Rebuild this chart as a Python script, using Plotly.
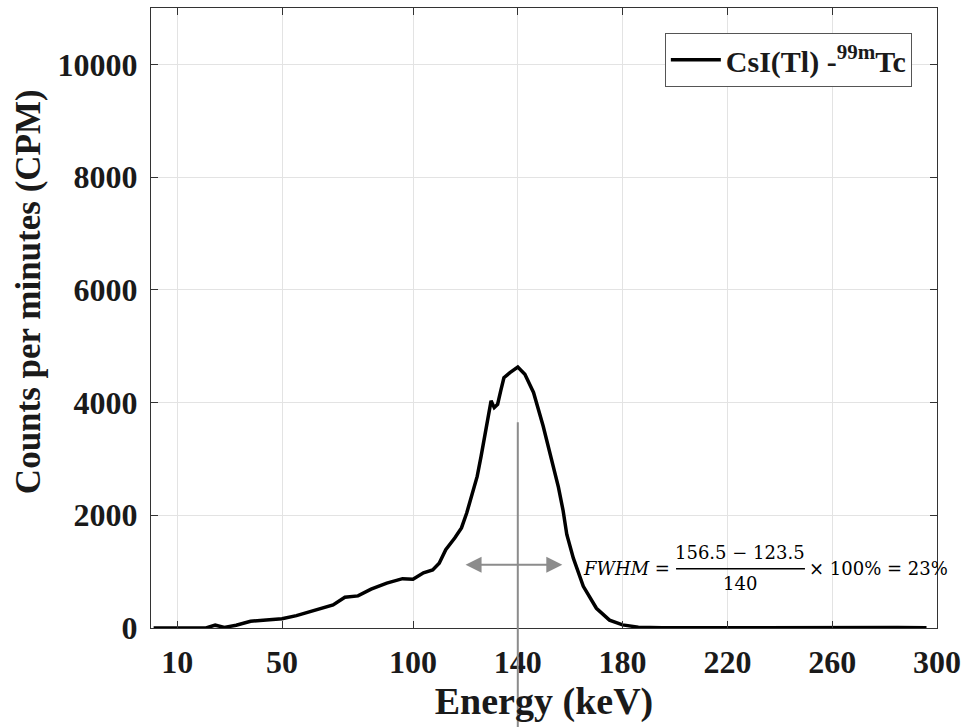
import plotly.graph_objects as go

# ---- data ----
energy_kev = [1, 10, 21, 24.5, 28, 32.5, 38, 44, 50, 55.5, 63, 69.5, 74, 79, 84, 90, 96, 100,
              104, 107.5, 110, 112.5, 116, 118.5, 120.5, 122.5, 124.5, 126, 128, 129.8, 131,
              132.3, 133.5, 134.7, 137, 140, 142.7, 146, 149.7, 152.9, 155.5, 157.3, 158.7,
              161.2, 165, 170, 175, 180, 186, 195, 210, 230, 250, 270, 285, 296]
counts_cpm = [0, 0, 0, 50, 10, 50, 120, 140, 165, 220, 320, 410, 545, 570, 690, 795, 875, 865,
              980, 1030, 1150, 1390, 1600, 1775, 2040, 2340, 2690, 3050, 3580, 4030, 3910,
              3970, 4210, 4440, 4530, 4630, 4500, 4180, 3580, 2990, 2500, 2080, 1660,
              1240, 740, 350, 140, 55, 15, 5, 8, 10, 5, 12, 8, 5]

x_ticks = [10, 50, 100, 140, 180, 220, 260, 300]
y_ticks = [0, 2000, 4000, 6000, 8000, 10000]
x_range = [0, 300]
y_range = [0, 11000]

series_name = "<b>CsI(Tl) -<sup>99m</sup>Tc</b>"
x_title = "<b>Energy (keV)</b>"
y_title = "<b>Counts per minutes (CPM)</b>"

# FWHM annotation values
fwhm_low, fwhm_high, peak_energy = 123.5, 156.5, 140
fwhm_arrow_left, fwhm_arrow_right, fwhm_arrow_y = 119.5, 157, 1120
marker_line_top = 3650

SERIF = "Liberation Serif"
MATH = "DejaVu Serif"

fig = go.Figure()
fig.add_trace(go.Scatter(x=energy_kev, y=counts_cpm, mode="lines", name=series_name,
                         line=dict(color="black", width=3.5), showlegend=True))

axis_common = dict(showline=True, linecolor="#333333", linewidth=1, mirror="ticks",
                   ticks="inside", ticklen=7, tickcolor="#333333", showgrid=True,
                   gridcolor="#e3e3e3", gridwidth=1, zeroline=False, automargin=False,
                   tickfont=dict(family=SERIF, size=32, color="#1a1a1a", weight="bold"))

fig.update_layout(
    width=965, height=727, autosize=False,
    margin=dict(l=151, r=28, t=8, b=99),
    paper_bgcolor="white", plot_bgcolor="white",
    xaxis=dict(range=x_range, tickvals=x_ticks, ticktext=[str(v) for v in x_ticks],
               ticklabelstandoff=6,
               title=dict(text=x_title, standoff=4,
                          font=dict(family=SERIF, size=38, color="#1a1a1a")),
               **axis_common),
    yaxis=dict(range=y_range, tickvals=y_ticks, ticktext=[str(v) for v in y_ticks],
               ticklabelstandoff=6, **axis_common),
    legend=dict(x=0.968, y=0.96, xanchor="right", yanchor="top",
                bgcolor="white", bordercolor="#555555", borderwidth=1,
                font=dict(family=SERIF, size=30, color="#1a1a1a"),
                itemwidth=50),
)

# y-axis title, placed slightly above the axis centre as in the reference
fig.add_annotation(x=-0.155, y=0.542, xref="paper", yref="paper", xanchor="center",
                   yanchor="middle", text=y_title, textangle=-90, showarrow=False,
                   font=dict(family=SERIF, size=35, color="#1a1a1a"))

# vertical gray marker at the peak energy, running below the axis
fig.add_shape(type="line", xref="x domain", yref="y domain",
              x0=(peak_energy - x_range[0]) / (x_range[1] - x_range[0]),
              x1=(peak_energy - x_range[0]) / (x_range[1] - x_range[0]),
              y0=-0.18, y1=marker_line_top / y_range[1],
              line=dict(color="#8c8c8c", width=2), layer="above")

# double-headed arrow
fig.add_annotation(x=fwhm_arrow_right, y=fwhm_arrow_y, ax=fwhm_arrow_left, ay=fwhm_arrow_y,
                   xref="x", yref="y", axref="x", ayref="y", text="", showarrow=True,
                   arrowside="end+start", arrowhead=2, arrowwidth=2, arrowsize=1.6,
                   arrowcolor="#8c8c8c", standoff=0, startstandoff=0)

# FWHM formula
eq_y = 1050
fig.add_annotation(x=164, y=eq_y, xref="x", yref="y", xanchor="left", yanchor="middle",
                   text="<i>FWHM</i> =", showarrow=False,
                   font=dict(family=MATH, size=18, color="black"))
frac_center = 224.8
fig.add_annotation(x=frac_center, y=1335, xref="x", yref="y", xanchor="center", yanchor="middle",
                   text=f"{fwhm_high} \u2212 {fwhm_low}", showarrow=False,
                   font=dict(family=MATH, size=18, color="black"))
fig.add_annotation(x=frac_center, y=790, xref="x", yref="y", xanchor="center", yanchor="middle",
                   text=f"{peak_energy}", showarrow=False,
                   font=dict(family=MATH, size=18, color="black"))
fig.add_shape(type="line", xref="x", yref="y", x0=200.4, x1=249.6, y0=eq_y, y1=eq_y,
              line=dict(color="black", width=1.5))
fig.add_annotation(x=250.4, y=eq_y, xref="x", yref="y", xanchor="left", yanchor="middle",
                   text="\u00d7 100% = 23%", showarrow=False,
                   font=dict(family=MATH, size=18, color="black"))

fig.write_html("out.html", config={"displayModeBar": False},
               post_script="document.body.style.margin='0px';")
